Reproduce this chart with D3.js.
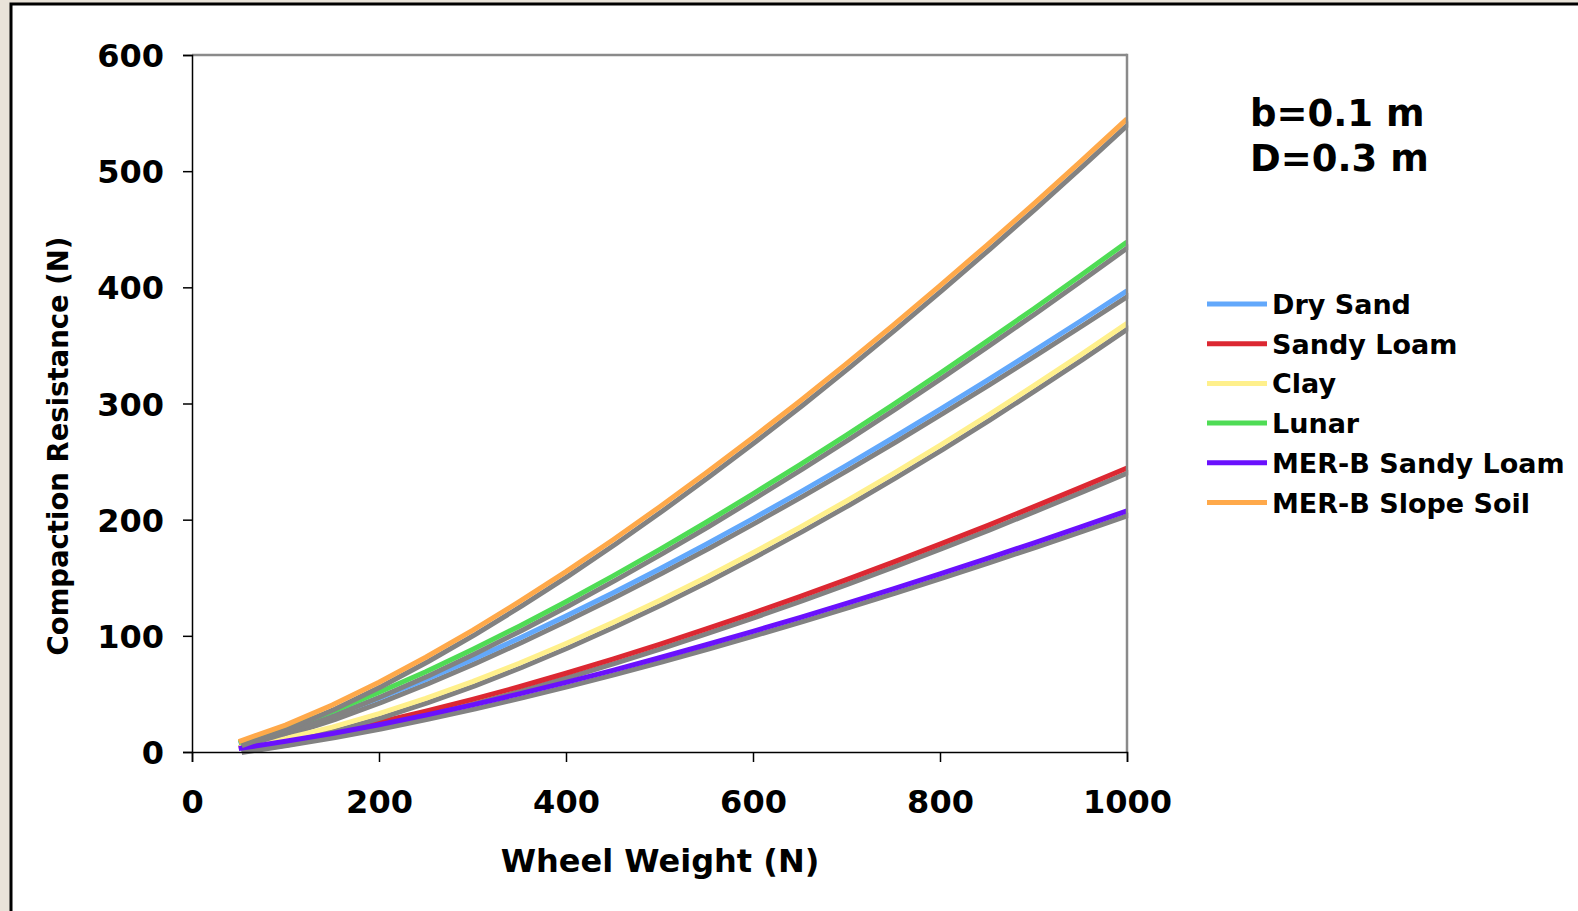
<!DOCTYPE html>
<html lang="en">
<head>
<meta charset="utf-8">
<title>Compaction Resistance</title>
<script src="https://d3js.org/d3.v7.min.js"></script>
<style>
  html, body { margin: 0; padding: 0; background: #e9e3d9; }
  svg { display: block; }
  text { font-family: "DejaVu Sans", Verdana, sans-serif; font-weight: bold; fill: #000; }
  .tick text { font-size: 32px; }
  .xTitle { font-size: 32px; }
  .yTitle { font-size: 27.5px; }
  .note { font-size: 37px; }
  .legend text { font-size: 27px; }
</style>
</head>
<body>
<div id="chart"></div>
<script>
// wheel weight (N)
const weights = [50, 100, 150, 200, 250, 300, 350, 400, 450, 500, 550, 600, 650, 700, 750, 800, 850, 900, 950, 1000];

// compaction resistance (N)
const drySand   = [7.3, 18.4, 31.6, 46.4, 62.5, 79.7, 97.9, 117.0, 136.9, 157.6, 178.9, 200.9, 223.5, 246.7, 270.5, 294.9, 319.7, 345.0, 370.8, 397];
const sandyLoam = [3.7, 9.7, 17.2, 25.7, 35.1, 45.3, 56.2, 67.8, 80.0, 92.6, 105.9, 119.6, 133.8, 148.4, 163.4, 178.9, 194.7, 211.0, 227.6, 244.5];
const clay      = [4.1, 11.7, 21.4, 33.0, 46.1, 60.6, 76.4, 93.4, 111.4, 130.5, 150.5, 171.5, 193.4, 216.1, 239.7, 264.0, 289.2, 315.1, 341.7, 369];
const lunar     = [8.1, 20.4, 35.0, 51.4, 69.1, 88.2, 108.3, 129.4, 151.4, 174.2, 197.8, 222.2, 247.2, 272.8, 299.1, 326.0, 353.5, 381.4, 410.0, 439];
const merbSandy = [3.0, 9.2, 15.9, 23.4, 31.7, 40.6, 50.0, 59.9, 70.3, 81.1, 92.3, 103.9, 115.7, 128.0, 140.5, 153.4, 166.5, 179.9, 193.6, 207.5];
const merbSlope = [9.0, 23.2, 40.5, 60.1, 81.6, 104.7, 129.4, 155.3, 182.5, 210.9, 240.3, 270.7, 302.0, 334.3, 367.5, 401.5, 436.2, 471.7, 508.0, 545];

const seriesNames  = ["Dry Sand", "Sandy Loam", "Clay", "Lunar", "MER-B Sandy Loam", "MER-B Slope Soil"];
const seriesValues = [drySand, sandyLoam, clay, lunar, merbSandy, merbSlope];
const colours      = ["#62a8fb", "#dc2832", "#fff08c", "#4fdc55", "#6a10fd", "#ffa94a"];

const xTicks = [0, 200, 400, 600, 800, 1000];
const yTicks = [0, 100, 200, 300, 400, 500, 600];

const W = 1578, H = 911;
const margin = { top: 55, right: 451, bottom: 159, left: 192 };
const width = W - margin.left - margin.right;
const height = H - margin.top - margin.bottom;

const svg = d3.select('#chart').append('svg')
  .attr('width', W)
  .attr('height', H);

// white slide panel with black frame
svg.append('rect')
  .attr('x', 11).attr('y', 4)
  .attr('width', W + 20).attr('height', H + 20)
  .style('fill', '#fff')
  .style('stroke', '#000')
  .style('stroke-width', 3);

const g = svg.append('g')
  .attr('transform', `translate(${margin.left},${margin.top})`);

const x = d3.scaleLinear().domain([0, 1000]).range([0, width]);
const y = d3.scaleLinear().domain([0, 600]).range([height, 0]);

// plot frame: grey top edge
g.append('line')
  .attr('x1', 0).attr('x2', width)
  .style('stroke', '#8a8a8a')
  .style('stroke-width', 2.5);

const line = d3.line()
  .x((d, i) => x(weights[i]))
  .y(d => y(d));

// shadow then coloured line, series by series
seriesValues.forEach((vals, k) => {
  g.append('path')
    .datum(vals)
    .attr('d', line)
    .attr('transform', 'translate(3,4)')
    .style('fill', 'none')
    .style('stroke', '#828282')
    .style('stroke-width', 5);
  g.append('path')
    .datum(vals)
    .attr('d', line)
    .style('fill', 'none')
    .style('stroke', colours[k])
    .style('stroke-width', 5);
});

// hide shadow overshoot past the right border, then draw the border
g.append('rect')
  .attr('x', width + 1.25).attr('y', -5)
  .attr('width', 10).attr('height', height + 10)
  .style('fill', '#fff');
g.append('line')
  .attr('x1', width).attr('x2', width)
  .attr('y1', -1.25).attr('y2', height)
  .style('stroke', '#8a8a8a')
  .style('stroke-width', 2.5);

const xAxis = d3.axisBottom(x).tickValues(xTicks).tickSize(10).tickPadding(28).tickFormat(d3.format('d'));
const yAxis = d3.axisLeft(y).tickValues(yTicks).tickSize(9).tickPadding(19).tickFormat(d3.format('d'));

g.append('g')
  .attr('class', 'axis xAxis')
  .attr('transform', `translate(0,${height})`)
  .call(xAxis)
  .call(a => a.selectAll('path, line').style('stroke', '#000').style('stroke-width', 1.5))
  .call(a => a.selectAll('text').attr('dy', '0.71em'));

g.append('g')
  .attr('class', 'axis yAxis')
  .call(yAxis)
  .call(a => a.selectAll('path, line').style('stroke', '#000').style('stroke-width', 1.5))
  .call(a => a.selectAll('text').attr('dy', '0.36em'));

// axis titles
svg.append('text')
  .attr('class', 'xTitle')
  .attr('x', 660).attr('y', 872)
  .style('text-anchor', 'middle')
  .text('Wheel Weight (N)');

svg.append('text')
  .attr('class', 'yTitle')
  .attr('transform', 'translate(68,446) rotate(-90)')
  .style('text-anchor', 'middle')
  .text('Compaction Resistance (N)');

// parameters note
svg.append('text').attr('class', 'note').attr('x', 1250).attr('y', 126).text('b=0.1 m');
svg.append('text').attr('class', 'note').attr('x', 1250).attr('y', 171).text('D=0.3 m');

// legend
const legend = svg.append('g').attr('class', 'legend')
  .attr('transform', 'translate(1207,304)');

const item = legend.selectAll('g')
  .data(seriesNames)
  .enter()
  .append('g')
  .attr('transform', (d, i) => `translate(0,${i * 39.7})`);

item.append('line')
  .attr('x1', 0).attr('x2', 60)
  .style('stroke', (d, i) => colours[i])
  .style('stroke-width', 5);

item.append('text')
  .attr('x', 65).attr('y', 10)
  .text(d => d);
</script>
</body>
</html>
